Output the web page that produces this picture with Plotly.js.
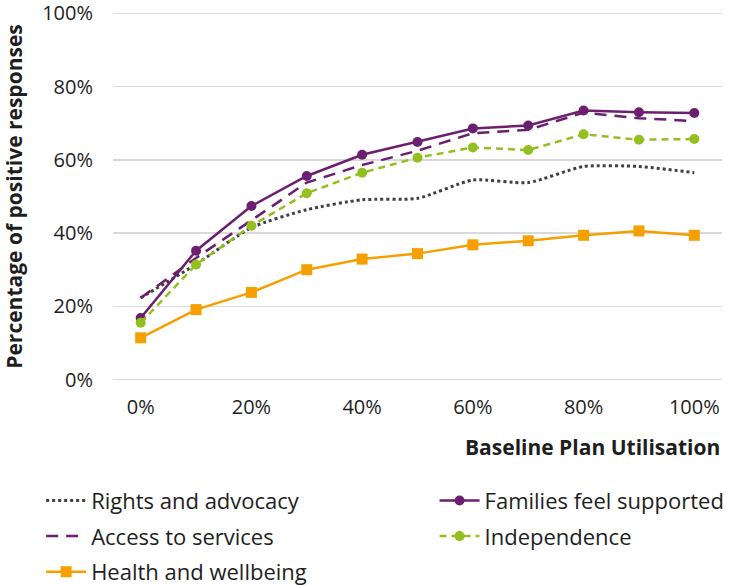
<!DOCTYPE html>
<html>
<head>
<meta charset="utf-8">
<script src="https://cdn.plot.ly/plotly-3.0.1.min.js"></script>
<style>
  html, body { margin: 0; padding: 0; background: #fff; }
  #chart { width: 739px; height: 585px; }
</style>
</head>
<body>
<div id="chart"></div>
<script>
const utilisation = [0, 10, 20, 30, 40, 50, 60, 70, 80, 90, 100];
const rightsAdvocacy = [22.3, 31.5, 41.5, 46.4, 49.1, 49.5, 54.5, 53.8, 58.2, 58.2, 56.5];
const familiesSupported = [16.8, 35.2, 47.4, 55.6, 61.4, 64.9, 68.6, 69.4, 73.5, 73.0, 72.8];
const accessServices = [22.3, 33.2, 43.5, 53.8, 58.6, 62.5, 67.3, 68.2, 72.9, 71.4, 70.6];
const independence = [15.5, 31.4, 42.0, 50.9, 56.5, 60.6, 63.4, 62.7, 67.0, 65.5, 65.7];
const healthWellbeing = [11.4, 19.1, 23.8, 30.0, 32.9, 34.4, 36.8, 37.9, 39.4, 40.6, 39.4];
const xTickVals = [0, 20, 40, 60, 80, 100];
const xTickText = ['0%', '20%', '40%', '60%', '80%', '100%'];
const yTickVals = [0, 20, 40, 60, 80, 100];
const yTickText = ['0%', '20%', '40%', '60%', '80%', '100%'];

const FONT = '"Open Sans", "DejaVu Sans", sans-serif';
const TEXT = '#1e1e1e';

const traces = [
  {
    name: 'Rights and advocacy', x: utilisation, y: rightsAdvocacy, mode: 'lines',
    legend: 'legend', legendgroup: 'a',
    line: { color: '#404040', width: 3, dash: 'dot', shape: 'spline', smoothing: 0.6 }
  },
  {
    name: 'Access to services', x: utilisation, y: accessServices, mode: 'lines',
    legend: 'legend', legendgroup: 'b',
    line: { color: '#6B1F6E', width: 2.5, dash: '12px,8px' }
  },
  {
    name: 'Health and wellbeing', x: utilisation, y: healthWellbeing, mode: 'lines+markers',
    legend: 'legend', legendgroup: 'c',
    line: { color: '#F5A000', width: 2.5 },
    marker: { color: '#F5A000', size: 11, symbol: 'square' }
  },
  {
    name: 'Families feel supported', x: utilisation, y: familiesSupported, mode: 'lines+markers',
    legend: 'legend2', legendgroup: 'd',
    line: { color: '#6B1F6E', width: 2.5 },
    marker: { color: '#6B1F6E', size: 10, symbol: 'circle' }
  },
  {
    name: 'Independence', x: utilisation, y: independence, mode: 'lines+markers',
    legend: 'legend2', legendgroup: 'e',
    line: { color: '#93C01F', width: 2.5, dash: '7px,5px' },
    marker: { color: '#93C01F', size: 10, symbol: 'circle' }
  }
];

const legendCommon = {
  orientation: 'v', yref: 'container', yanchor: 'top', y: 0.18,
  xanchor: 'left', font: { family: FONT, size: 22, color: TEXT },
  itemwidth: 40, tracegroupgap: 4, traceorder: 'grouped', bgcolor: 'rgba(0,0,0,0)'
};

const layout = {
  width: 739, height: 585,
  margin: { l: 113, r: 17, t: 12, b: 204 },
  paper_bgcolor: '#ffffff', plot_bgcolor: '#ffffff',
  font: { family: FONT, size: 20, color: TEXT },
  showlegend: true,
  xaxis: {
    range: [-5, 105], tickmode: 'array', tickvals: xTickVals, ticktext: xTickText,
    showgrid: false, zeroline: false, showline: false, ticks: '',
    ticklabelstandoff: 12, ticklabeloverflow: 'allow',
    tickfont: { family: FONT, size: 20, color: TEXT }
  },
  yaxis: {
    range: [-0.4, 100.4], tickmode: 'array', tickvals: yTickVals, ticktext: yTickText,
    showgrid: true, gridcolor: '#d9d9d9', gridwidth: 1.5,
    zeroline: false, showline: false, ticks: '',
    ticklabelstandoff: 19, ticklabeloverflow: 'allow',
    tickfont: { family: FONT, size: 20, color: TEXT },
    title: { text: 'Percentage of positive responses', font: { family: FONT, size: 21, color: TEXT, weight: 'bold' }, standoff: 14 }
  },
  annotations: [
    {
      text: '<b>Baseline Plan Utilisation</b>', xref: 'paper', yref: 'paper',
      x: 1, y: -0.18, xanchor: 'right', yanchor: 'middle', showarrow: false,
      font: { family: FONT, size: 21, color: TEXT }
    }
  ],
  legend: Object.assign({}, legendCommon, { x: -0.118 }),
  legend2: Object.assign({}, legendCommon, { x: 0.528 })
};

Plotly.newPlot('chart', traces, layout, { displayModeBar: false, staticPlot: true });
</script>
</body>
</html>
